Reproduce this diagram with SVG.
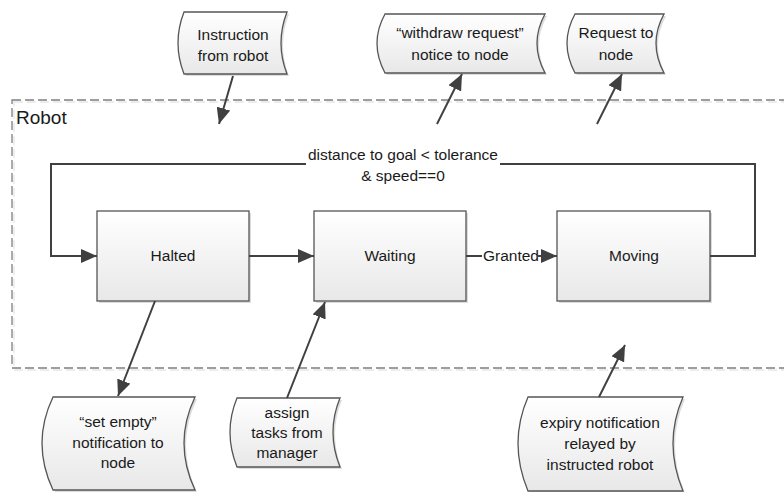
<svg xmlns="http://www.w3.org/2000/svg" width="784" height="492" viewBox="0 0 784 492">
<defs>
  <linearGradient id="g" x1="0" y1="0" x2="0" y2="1">
    <stop offset="0" stop-color="#ffffff"/>
    <stop offset="1" stop-color="#e8e8e8"/>
  </linearGradient>
  <marker id="arr" markerUnits="userSpaceOnUse" markerWidth="17" markerHeight="14" refX="16" refY="7" orient="auto">
    <path d="M0,0 L16,7 L0,14 z" fill="#404040"/>
  </marker>
  <style>
    text { font-family: "Liberation Sans", Arial, sans-serif; font-size: 15.5px; fill: #1a1a1a; text-anchor: middle; }
    .box { fill: url(#g); stroke: #555; stroke-width: 1.3; }
    .sh { fill: #dcdcdc; stroke: none; }
    .data { fill: url(#g); stroke: #555; stroke-width: 1.3; }
    .conn { fill: none; stroke: #404040; stroke-width: 2; }
    .cont { fill: none; stroke: #7f7f7f; stroke-width: 1.3; stroke-dasharray: 9 4; }
  </style>
</defs>

<g id="robot-container">
  <rect x="14" y="102" width="800" height="268" fill="none" stroke="#e6e6e6" stroke-width="1.3" stroke-dasharray="9 4"/>
  <rect class="cont" x="12" y="100" width="800" height="268"/>
  <text x="16" y="124" style="font-size:19px;text-anchor:start">Robot</text>
</g>

<g id="halted">
  <rect class="sh" x="99" y="213" width="152" height="90"/>
  <rect class="box" x="97" y="211" width="152" height="90"/>
  <text x="173" y="261">Halted</text>
</g>
<g id="waiting">
  <rect class="sh" x="316" y="213" width="152" height="90"/>
  <rect class="box" x="314" y="211" width="152" height="90"/>
  <text x="390" y="261">Waiting</text>
</g>
<g id="moving">
  <rect class="sh" x="559" y="213" width="153" height="90"/>
  <rect class="box" x="557" y="211" width="153" height="90"/>
  <text x="634" y="261">Moving</text>
</g>

<g id="instruction">
  <path class="sh" d="M186,14 H289 Q277,45 289,76 H186 Q174,45 186,14 Z"/>
  <path class="data" d="M184,12 H287 Q275,43 287,74 H184 Q172,43 184,12 Z"/>
  <text x="233" y="40">Instruction</text>
  <text x="233" y="61">from robot</text>
</g>
<g id="withdraw">
  <path class="sh" d="M387,16 H547 Q531,45 547,75 H387 Q371,45 387,16 Z"/>
  <path class="data" d="M385,14 H545 Q529,43 545,73 H385 Q369,43 385,14 Z"/>
  <text x="460" y="38">“withdraw request”</text>
  <text x="460" y="60">notice to node</text>
</g>
<g id="request">
  <path class="sh" d="M577,16 H666 Q650,45 666,75 H577 Q561,45 577,16 Z"/>
  <path class="data" d="M575,14 H664 Q648,43 664,73 H575 Q559,43 575,14 Z"/>
  <text x="616" y="38">Request to</text>
  <text x="616" y="60">node</text>
</g>
<g id="set-empty">
  <path class="sh" d="M55,399 H197 Q175,445 197,492 H55 Q33,445 55,399 Z"/>
  <path class="data" d="M53,397 H195 Q173,443 195,490 H53 Q31,443 53,397 Z"/>
  <text x="118" y="427">“set empty”</text>
  <text x="118" y="448">notification to</text>
  <text x="118" y="468">node</text>
</g>
<g id="assign">
  <path class="sh" d="M239,400 H342 Q328,434 342,469 H239 Q225,434 239,400 Z"/>
  <path class="data" d="M237,398 H340 Q326,432 340,467 H237 Q223,432 237,398 Z"/>
  <text x="287" y="418">assign</text>
  <text x="287" y="438">tasks from</text>
  <text x="287" y="458">manager</text>
</g>
<g id="expiry">
  <path class="sh" d="M530,399 H685 Q665,445 685,493 H530 Q510,445 530,399 Z"/>
  <path class="data" d="M528,397 H683 Q663,443 683,491 H528 Q508,443 528,397 Z"/>
  <text x="600" y="428">expiry notification</text>
  <text x="600" y="449">relayed by</text>
  <text x="600" y="470">instructed robot</text>
</g>

<g id="connectors">
  <path class="conn" d="M710,256 H755 V164 H51 V256 H97" marker-end="url(#arr)"/>
  <rect x="306" y="146" width="194" height="40" fill="#fff"/>
  <text x="403" y="160">distance to goal &lt; tolerance</text>
  <text x="403" y="181">&amp; speed==0</text>
  <path class="conn" d="M249,256 H314" marker-end="url(#arr)"/>
  <path class="conn" d="M466,256 H557" marker-end="url(#arr)"/>
  <rect x="482" y="246" width="58" height="20" fill="#fff"/>
  <text x="511" y="261">Granted</text>
  <path class="conn" d="M466,256 H482"/>
  <path class="conn" d="M538,256 H542"/>
  <path class="conn" d="M233,76 L219,124" marker-end="url(#arr)"/>
  <path class="conn" d="M437,124 L462,74" marker-end="url(#arr)"/>
  <path class="conn" d="M597,124 L622,74" marker-end="url(#arr)"/>
  <path class="conn" d="M155,301 L118,396" marker-end="url(#arr)"/>
  <path class="conn" d="M287,398 L325,302" marker-end="url(#arr)"/>
  <path class="conn" d="M599,397 L625,345" marker-end="url(#arr)"/>
</g>
</svg>
